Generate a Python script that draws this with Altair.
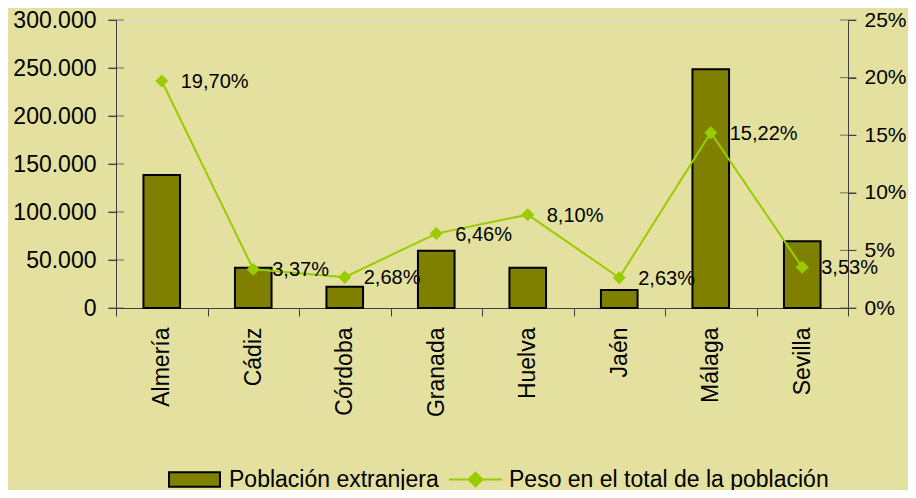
import altair as alt
import pandas as pd

provincias = ["Almería", "Cádiz", "Córdoba", "Granada", "Huelva", "Jaén", "Málaga", "Sevilla"]
poblacion = [138500, 42000, 22200, 59700, 42000, 18700, 248600, 69500]
peso = [19.70, 3.37, 2.68, 6.46, 8.10, 2.63, 15.22, 3.53]
ticks_izq = [0, 50000, 100000, 150000, 200000, 250000, 300000]
ticks_der = [0, 5, 10, 15, 20, 25]
serie_barras = "Población extranjera"
serie_linea = "Peso en el total de la población"

OLIVE = "#808000"
GREEN = "#99CC00"
AXIS = "#404040"
BG = "#E3E0A0"
FONT = "Liberation Sans"

df = pd.DataFrame({"provincia": provincias, "poblacion": poblacion, "peso": peso})
df["etiqueta"] = [f"{v:.2f}".replace(".", ",") + "%" for v in peso]
df["serie_b"] = serie_barras
df["serie_l"] = serie_linea
tl_df = pd.DataFrame({"poblacion": ticks_izq})
tr_df = pd.DataFrame({"peso": ticks_der})

x_enc = alt.X(
    "provincia:N", sort=provincias, title=None,
    scale=alt.Scale(paddingInner=0, paddingOuter=0),
    axis=alt.Axis(labelAngle=270, labelFontSize=23, labelColor="black", labelFont=FONT,
                  tickBand="extent", tickSize=8, tickColor=AXIS, domainColor=AXIS,
                  labelPadding=11, labelAlign="right", labelBaseline="middle"),
)

axis_l = alt.Axis(values=ticks_izq, grid=False, tickSize=8, tickColor=AXIS, domainColor=AXIS,
                  labelFontSize=23, labelColor="black", labelFont=FONT, labelPadding=12,
                  labelExpr="replace(format(datum.value, ','), ',', '.')")
axis_r = alt.Axis(orient="right", values=ticks_der, grid=False, tickSize=8, tickColor=AXIS,
                  domainColor=AXIS, labelFontSize=21, labelColor="black", labelFont=FONT,
                  labelPadding=8, labelExpr="datum.value + '%'")
scale_l = alt.Scale(domain=[0, 300000], nice=False, zero=True)
scale_r = alt.Scale(domain=[0, 25], nice=False, zero=True)

bars = alt.Chart(df).mark_bar(width=alt.RelativeBandSize(0.4), stroke="black", strokeWidth=2).encode(
    x=x_enc,
    y=alt.Y("poblacion:Q", title=None, scale=scale_l, axis=axis_l),
    fill=alt.Fill("serie_b:N",
                  scale=alt.Scale(range=[OLIVE]),
                  legend=alt.Legend(orient="none", legendX=52, legendY=433, title=None,
                                    symbolType="M-1,-0.28H1V0.28H-1Z", symbolSize=2601,
                                    symbolStrokeColor="black", symbolStrokeWidth=2,
                                    labelFontSize=23, labelColor="black", labelFont=FONT,
                                    labelLimit=400, labelOffset=8)),
)
tick_l = alt.Chart(tl_df).mark_tick(size=16, thickness=1, color=AXIS).encode(
    y=alt.Y("poblacion:Q", title=None, scale=scale_l, axis=axis_l), x=alt.value(0)
)
left = alt.layer(bars, tick_l)

line = alt.Chart(df).mark_line(strokeWidth=2).encode(
    x=x_enc,
    y=alt.Y("peso:Q", title=None, scale=scale_r, axis=axis_r),
    stroke=alt.Stroke("serie_l:N",
                      scale=alt.Scale(range=[GREEN]),
                      legend=alt.Legend(orient="none", legendX=332, legendY=432, title=None,
                                        symbolType="M-1,0H1M0,-0.26L0.26,0L0,0.26L-0.26,0Z",
                                        symbolSize=2809, symbolFillColor=GREEN, symbolStrokeWidth=2,
                                        labelFontSize=23, labelColor="black", labelFont=FONT,
                                        labelLimit=500, labelOffset=6)),
)
pts = alt.Chart(df).mark_point(shape="diamond", filled=True, size=170, color=GREEN, opacity=1).encode(
    x=x_enc, y=alt.Y("peso:Q", title=None, scale=scale_r, axis=axis_r)
)
lbl = alt.Chart(df).mark_text(align="left", baseline="middle", dx=19, dy=1, fontSize=20,
                              font=FONT, color="black").encode(
    x=x_enc, y=alt.Y("peso:Q", title=None, scale=scale_r, axis=axis_r), text="etiqueta:N"
)
tick_r = alt.Chart(tr_df).mark_tick(size=16, thickness=1, color=AXIS).encode(
    y=alt.Y("peso:Q", title=None, scale=scale_r, axis=axis_r), x=alt.value(732)
)
right = alt.layer(line, pts, lbl, tick_r)

chart = alt.layer(left, right).resolve_scale(y="independent").properties(
    width=732, height=288,
    autosize=alt.AutoSizeParams(type="none"),
    padding={"left": 108, "top": 12, "right": 60, "bottom": 182},
    background=BG,
).configure_view(stroke=None).configure(font=FONT)

chart.save("out.html", embed_options={"renderer": "svg", "actions": False})
